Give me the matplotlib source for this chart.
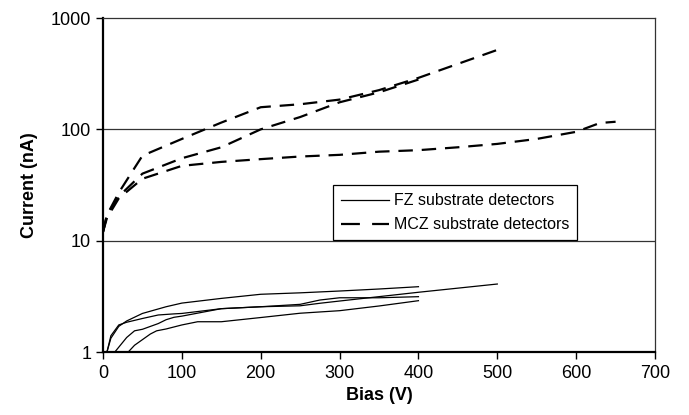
import matplotlib
matplotlib.use("Agg")
import matplotlib.pyplot as plt
import matplotlib.ticker as ticker
from matplotlib.lines import Line2D

plt.rcParams['font.family'] = ['Liberation Sans', 'DejaVu Sans']

# FZ substrate detectors (solid lines): bias (V), current (nA)
fz1_bias = [5, 10, 20, 30, 50, 80, 100, 150, 200, 250, 300, 350, 400]
fz1_curr = [1.0, 1.33, 1.7, 1.9, 2.22, 2.55, 2.75, 3.03, 3.3, 3.4, 3.53, 3.68, 3.86]

fz2_bias = [5, 10, 20, 30, 50, 70, 90, 100, 150, 200, 250, 275, 300, 400, 500]
fz2_curr = [1.0, 1.4, 1.75, 1.85, 2.0, 2.15, 2.2, 2.22, 2.45, 2.55, 2.6, 2.74, 2.87, 3.44, 4.08]

fz3_bias = [15, 30, 40, 50, 70, 80, 90, 100, 150, 200, 250, 275, 300, 350, 400]
fz3_curr = [1.0, 1.35, 1.55, 1.6, 1.8, 1.95, 2.05, 2.1, 2.45, 2.55, 2.68, 2.93, 3.07, 3.07, 3.14]

fz4_bias = [32, 40, 60, 68, 80, 100, 120, 150, 200, 250, 300, 350, 400]
fz4_curr = [1.0, 1.15, 1.45, 1.55, 1.61, 1.75, 1.87, 1.87, 2.04, 2.23, 2.35, 2.59, 2.89]

# MCZ substrate detectors (dashed lines)
mcz1_bias = [0, 5, 20, 40, 50, 100, 150, 200, 250, 300, 350, 400, 500]
mcz1_curr = [12, 17, 27, 45, 58, 82, 115, 158, 168, 185, 225, 290, 517]

mcz2_bias = [0, 5, 20, 50, 100, 150, 200, 250, 300, 350, 400]
mcz2_curr = [12, 17, 25, 40, 55, 69, 100, 129, 175, 215, 280]

mcz3_bias = [0, 5, 20, 50, 100, 150, 200, 250, 300, 350, 400, 450, 500, 550, 600, 630, 650]
mcz3_curr = [12, 16, 24, 36, 47, 51, 54, 57, 59, 63, 65, 69, 74, 82, 95, 114, 117]

x_ticks = [0, 100, 200, 300, 400, 500, 600, 700]
y_ticks = [1, 10, 100, 1000]

fig = plt.figure(figsize=(6.89, 4.15), dpi=100)
ax = fig.add_axes([0.1495, 0.1518, 0.8012, 0.8048])

solid = dict(color='black', linewidth=0.9, linestyle='-')
dashed = dict(color='black', linewidth=1.6, linestyle=(0, (6.5, 4)))

for b, c in [(fz1_bias, fz1_curr), (fz2_bias, fz2_curr),
             (fz3_bias, fz3_curr), (fz4_bias, fz4_curr)]:
    ax.plot(b, c, **solid)

for b, c in [(mcz1_bias, mcz1_curr), (mcz2_bias, mcz2_curr), (mcz3_bias, mcz3_curr)]:
    ax.plot(b, c, **dashed)

ax.set_yscale('log')
ax.set_xlim(0, 700)
ax.set_ylim(1, 1000)
ax.xaxis.set_major_locator(ticker.FixedLocator(x_ticks))
ax.yaxis.set_major_locator(ticker.FixedLocator(y_ticks))
ax.yaxis.set_minor_locator(ticker.NullLocator())
ax.yaxis.set_major_formatter(ticker.FuncFormatter(lambda v, p: f'{v:g}'))

# horizontal gridlines at the decades
for yv in [10, 100]:
    ax.axhline(yv, color='#333333', linewidth=0.9, zorder=0)

ax.spines['left'].set_linewidth(1.6)
ax.spines['bottom'].set_linewidth(1.6)
for s in ['top', 'right']:
    ax.spines[s].set_color('#333333')
    ax.spines[s].set_linewidth(0.9)

ax.tick_params(direction='out', length=5, width=1, labelsize=13, colors='black')
ax.tick_params(axis='x', pad=4)

ax.set_xlabel('Bias (V)', fontsize=13, fontweight='bold', labelpad=4)
ax.set_ylabel('Current (nA)', fontsize=13, fontweight='bold', labelpad=9)

# legend handles: the dashed one shows just two dashes like the original
handles = [Line2D([], [], color='black', linewidth=0.9),
           Line2D([], [], color='black', linewidth=1.6, linestyle=(0, (8.5, 5.5)))]
leg = ax.legend(handles, ['FZ substrate detectors', 'MCZ substrate detectors'],
                loc='lower left', bbox_to_anchor=(0.417, 0.335), fontsize=11.5,
                frameon=True, fancybox=False, edgecolor='black', framealpha=1,
                handlelength=3.0, handletextpad=0.3, borderpad=0.5, labelspacing=0.55,
                borderaxespad=0)
leg.get_frame().set_linewidth(0.9)

plt.savefig('out.png', dpi=100)
